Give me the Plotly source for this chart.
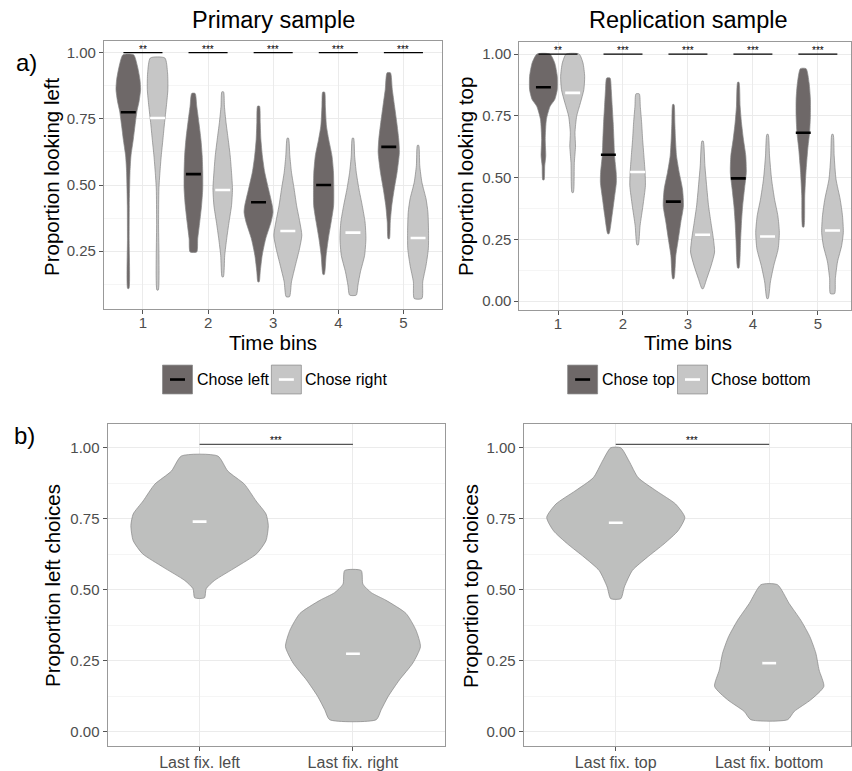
import plotly.graph_objects as go

W, H = 852, 771
FONT = "Liberation Sans, Arial, Helvetica, sans-serif"

# ---------------------------------------------------------------- data ----
time_bins = [1, 2, 3, 4, 5]

# Violin outlines: (proportion, half-width in x units), bottom -> top.
# Primary sample, "Chose left"
prim_left_1 = [(0.109, 0.010), (0.297, 0.013), (0.422, 0.015), (0.548, 0.026), (0.610, 0.041),
               (0.673, 0.077), (0.723, 0.102), (0.779, 0.133), (0.817, 0.166), (0.861, 0.189),
               (0.898, 0.179), (0.949, 0.140), (0.992, 0.082)]
prim_left_2 = [(0.247, 0.051), (0.297, 0.066), (0.360, 0.097), (0.422, 0.125), (0.485, 0.143),
               (0.548, 0.143), (0.610, 0.135), (0.673, 0.115), (0.736, 0.084), (0.798, 0.051),
               (0.846, 0.026)]
prim_left_3 = [(0.134, 0.010), (0.172, 0.026), (0.234, 0.056), (0.297, 0.110), (0.360, 0.192),
               (0.397, 0.222), (0.422, 0.212), (0.485, 0.153), (0.548, 0.095), (0.610, 0.059),
               (0.673, 0.036), (0.736, 0.026), (0.798, 0.015)]
prim_left_4 = [(0.162, 0.010), (0.234, 0.038), (0.297, 0.072), (0.360, 0.115), (0.422, 0.153),
               (0.485, 0.156), (0.548, 0.151), (0.610, 0.128), (0.673, 0.077), (0.723, 0.043),
               (0.798, 0.026), (0.851, 0.015)]
prim_left_5 = [(0.297, 0.010), (0.360, 0.023), (0.422, 0.046), (0.485, 0.084), (0.548, 0.128),
               (0.623, 0.163), (0.673, 0.153), (0.736, 0.123), (0.798, 0.089), (0.861, 0.054),
               (0.924, 0.026)]
# Primary sample, "Chose right"
prim_right_1 = [(0.103, 0.010), (0.360, 0.015), (0.485, 0.020), (0.548, 0.036), (0.610, 0.056),
                (0.673, 0.082), (0.736, 0.107), (0.798, 0.135), (0.861, 0.158), (0.924, 0.153),
                (0.980, 0.112)]
prim_right_2 = [(0.153, 0.010), (0.234, 0.031), (0.297, 0.061), (0.360, 0.097), (0.422, 0.135),
                (0.485, 0.150), (0.548, 0.135), (0.610, 0.115), (0.673, 0.084), (0.736, 0.051),
                (0.798, 0.026), (0.852, 0.013)]
prim_right_3 = [(0.078, 0.026), (0.134, 0.056), (0.197, 0.117), (0.259, 0.179), (0.310, 0.215),
                (0.360, 0.184), (0.422, 0.135), (0.485, 0.097), (0.548, 0.056), (0.610, 0.031),
                (0.677, 0.010)]
prim_right_4 = [(0.084, 0.051), (0.122, 0.077), (0.172, 0.115), (0.234, 0.179), (0.297, 0.199),
                (0.360, 0.186), (0.422, 0.143), (0.485, 0.092), (0.548, 0.051), (0.610, 0.026),
                (0.677, 0.010)]
prim_right_5 = [(0.071, 0.059), (0.134, 0.072), (0.197, 0.123), (0.259, 0.158), (0.322, 0.161),
                (0.397, 0.151), (0.447, 0.123), (0.510, 0.059), (0.573, 0.026), (0.650, 0.010)]

prim_left_medians = [0.775, 0.541, 0.435, 0.500, 0.644]
prim_right_medians = [0.753, 0.481, 0.326, 0.320, 0.300]

# Replication sample, "Chose top"
rep_top_1 = [(0.491, 0.010), (0.548, 0.020), (0.588, 0.036), (0.655, 0.028), (0.736, 0.046),
             (0.789, 0.103), (0.816, 0.174), (0.856, 0.213), (0.910, 0.213), (0.964, 0.174),
             (1.000, 0.100)]
rep_top_2 = [(0.273, 0.010), (0.346, 0.056), (0.413, 0.090), (0.481, 0.123), (0.521, 0.120),
             (0.588, 0.095), (0.655, 0.085), (0.722, 0.074), (0.789, 0.059), (0.856, 0.044),
             (0.903, 0.026)]
rep_top_3 = [(0.091, 0.010), (0.185, 0.038), (0.252, 0.077), (0.320, 0.115), (0.386, 0.156),
             (0.454, 0.141), (0.521, 0.090), (0.588, 0.049), (0.655, 0.033), (0.722, 0.023),
             (0.796, 0.010)]
rep_top_4 = [(0.134, 0.010), (0.252, 0.036), (0.320, 0.049), (0.386, 0.067), (0.454, 0.095),
             (0.521, 0.123), (0.588, 0.115), (0.655, 0.079), (0.722, 0.049), (0.789, 0.028),
             (0.886, 0.010)]
rep_top_5 = [(0.300, 0.010), (0.427, 0.023), (0.521, 0.041), (0.615, 0.069), (0.682, 0.097),
             (0.749, 0.110), (0.816, 0.110), (0.883, 0.090), (0.941, 0.044)]
# Replication sample, "Chose bottom"
rep_bottom_1 = [(0.440, 0.010), (0.561, 0.026), (0.628, 0.044), (0.682, 0.036), (0.749, 0.062),
                (0.803, 0.120), (0.856, 0.172), (0.910, 0.185), (0.964, 0.159), (1.000, 0.100)]
rep_bottom_2 = [(0.228, 0.010), (0.306, 0.038), (0.386, 0.082), (0.467, 0.120), (0.521, 0.115),
                (0.588, 0.097), (0.655, 0.077), (0.722, 0.062), (0.789, 0.041), (0.839, 0.026)]
rep_bottom_3 = [(0.051, 0.010), (0.091, 0.064), (0.145, 0.133), (0.199, 0.185), (0.252, 0.167),
                (0.320, 0.128), (0.386, 0.092), (0.454, 0.067), (0.548, 0.036), (0.648, 0.010)]
rep_bottom_4 = [(0.011, 0.010), (0.078, 0.044), (0.145, 0.097), (0.212, 0.164), (0.279, 0.182),
                (0.346, 0.159), (0.413, 0.108), (0.494, 0.062), (0.588, 0.031), (0.675, 0.010)]
rep_bottom_5 = [(0.031, 0.033), (0.091, 0.044), (0.159, 0.077), (0.225, 0.141), (0.279, 0.167),
                (0.346, 0.154), (0.413, 0.118), (0.494, 0.054), (0.588, 0.026), (0.675, 0.010)]

rep_top_medians = [0.866, 0.593, 0.403, 0.497, 0.682]
rep_bottom_medians = [0.843, 0.523, 0.269, 0.262, 0.286]

# Choice proportions split by the location of the last fixation
prim_choice_labels = ["Last fix. left", "Last fix. right"]
prim_lastfix_left = [(0.472, 0.032), (0.504, 0.043), (0.533, 0.097), (0.580, 0.238), (0.627, 0.372),
                     (0.673, 0.433), (0.726, 0.448), (0.767, 0.433), (0.813, 0.368), (0.872, 0.292),
                     (0.918, 0.184), (0.971, 0.119)]
prim_lastfix_right = [(0.043, 0.152), (0.078, 0.184), (0.125, 0.230), (0.183, 0.303), (0.242, 0.390),
                      (0.300, 0.440), (0.358, 0.411), (0.417, 0.346), (0.463, 0.216), (0.490, 0.120),
                      (0.520, 0.065), (0.568, 0.054)]
prim_choice_medians = [0.740, 0.275]

rep_choice_labels = ["Last fix. top", "Last fix. bottom"]
rep_lastfix_top = [(0.469, 0.033), (0.510, 0.056), (0.568, 0.108), (0.615, 0.206), (0.662, 0.315),
                   (0.708, 0.406), (0.755, 0.450), (0.802, 0.390), (0.848, 0.265), (0.895, 0.146),
                   (0.953, 0.087), (1.000, 0.033)]
rep_lastfix_bottom = [(0.043, 0.120), (0.072, 0.163), (0.113, 0.271), (0.160, 0.356), (0.218, 0.325),
                      (0.277, 0.304), (0.335, 0.265), (0.393, 0.206), (0.452, 0.130), (0.518, 0.054)]
rep_choice_medians = [0.736, 0.242]

bin_stars = ["**", "***", "***", "***", "***"]
choice_stars = "***"

# --------------------------------------------------------------- style ----
DARK = "#6e6868"
LIGHT = "#c6c6c6"
MID = "#bebfbe"
EDGE = "#858585"
GRID = "#ebebeb"
GRID_MINOR = "#f5f5f5"
TICK_TXT = "#4d4d4d"
DODGE = 0.225


def px(x):
    return x / W


def py(y):
    return 1 - y / H


def outline(center, profile):
    ys = [p[0] for p in profile]
    ws = [p[1] for p in profile]
    xs = [center + w for w in ws] + [center - w for w in reversed(ws)]
    yy = ys + ys[::-1]
    xs.append(xs[0])
    yy.append(yy[0])
    return xs, yy


fig = go.Figure()


def add_violin(center, profile, fill, xa, ya):
    xs, ys = outline(center, profile)
    fig.add_trace(go.Scatter(
        x=xs, y=ys, xaxis=xa, yaxis=ya, mode="lines", fill="toself",
        fillcolor=fill, line=dict(color=EDGE, width=0.7, shape="spline", smoothing=0.6),
        hoverinfo="skip", showlegend=False))


def add_median(center, value, half, color, xa, ya, width=2.6):
    fig.add_trace(go.Scatter(
        x=[center - half, center + half], y=[value, value], xaxis=xa, yaxis=ya,
        mode="lines", line=dict(color=color, width=width), hoverinfo="skip",
        showlegend=False))


# Panel a, time-bin violins
panels_a = [
    ("x", "y", [prim_left_1, prim_left_2, prim_left_3, prim_left_4, prim_left_5],
     [prim_right_1, prim_right_2, prim_right_3, prim_right_4, prim_right_5],
     prim_left_medians, prim_right_medians),
    ("x2", "y2", [rep_top_1, rep_top_2, rep_top_3, rep_top_4, rep_top_5],
     [rep_bottom_1, rep_bottom_2, rep_bottom_3, rep_bottom_4, rep_bottom_5],
     rep_top_medians, rep_bottom_medians),
]
for xa, ya, first, second, med1, med2 in panels_a:
    for b, p1, p2, m1, m2 in zip(time_bins, first, second, med1, med2):
        add_violin(b - DODGE, p1, DARK, xa, ya)
        add_violin(b + DODGE, p2, LIGHT, xa, ya)
        add_median(b - DODGE, m1, 0.115, "black", xa, ya)
        add_median(b + DODGE, m2, 0.115, "white", xa, ya)
        # significance bar across the pair
        fig.add_trace(go.Scatter(
            x=[b - 0.3, b + 0.3], y=[1.0, 1.0], xaxis=xa, yaxis=ya, mode="lines",
            line=dict(color="black", width=1.2), hoverinfo="skip", showlegend=False))

# Panel b, last-fixation violins
panels_b = [
    ("x3", "y3", [prim_lastfix_left, prim_lastfix_right], prim_choice_medians),
    ("x4", "y4", [rep_lastfix_top, rep_lastfix_bottom], rep_choice_medians),
]
for xa, ya, profs, meds in panels_b:
    for i, (p, m) in enumerate(zip(profs, meds)):
        add_violin(i + 1, p, MID, xa, ya)
        add_median(i + 1, m, 0.045, "white", xa, ya, width=2.6)
    fig.add_trace(go.Scatter(
        x=[1, 2], y=[1.012, 1.012], xaxis=xa, yaxis=ya, mode="lines",
        line=dict(color="#555555", width=1.3), hoverinfo="skip", showlegend=False))

# --------------------------------------------------------------- axes -----
def yaxis(domain, rng, anchor):
    return dict(
        domain=domain, range=rng, anchor=anchor,
        tickvals=[0, 0.25, 0.5, 0.75, 1.0], ticktext=["0.00", "0.25", "0.50", "0.75", "1.00"],
        ticks="outside", ticklen=4, tickcolor="#555555", tickwidth=1,
        tickfont=dict(family=FONT, size=15, color=TICK_TXT),
        showgrid=True, gridcolor=GRID, gridwidth=1,
        minor=dict(tickvals=[0.125, 0.375, 0.625, 0.875], showgrid=True,
                   gridcolor=GRID_MINOR, gridwidth=1, ticks=""),
        showline=True, linecolor="#999999", linewidth=1, mirror=True, zeroline=False,
        fixedrange=True)


def xaxis(domain, rng, anchor, vals, texts, size, standoff):
    return dict(
        domain=domain, range=rng, anchor=anchor, tickvals=vals, ticktext=texts,
        ticks="outside", ticklen=4, tickcolor="#555555", tickwidth=1,
        ticklabelstandoff=standoff,
        tickfont=dict(family=FONT, size=size, color=TICK_TXT),
        showgrid=True, gridcolor=GRID, gridwidth=1,
        showline=True, linecolor="#999999", linewidth=1, mirror=True, zeroline=False,
        fixedrange=True)


bin_text = [str(b) for b in time_bins]
fig.update_layout(
    xaxis=xaxis([px(104), px(443)], [0.4, 5.6], "y", time_bins, bin_text, 15, -4),
    yaxis=yaxis([py(311), py(41)], [0.03, 1.045], "x"),
    xaxis2=xaxis([px(520), 1.0], [0.405, 5.51], "y2", time_bins, bin_text, 15, -4),
    yaxis2=yaxis([py(312), py(42.7)], [-0.037, 1.047], "x2"),
    xaxis3=xaxis([px(107.7), px(445.5)], [0.4, 2.6], "y3", [1, 2], prim_choice_labels, 16, -2),
    yaxis3=yaxis([py(750), py(426.7)], [-0.05, 1.082], "x3"),
    xaxis4=xaxis([px(524.3), 1.0], [0.4, 2.533], "y4", [1, 2], rep_choice_labels, 16, -2),
    yaxis4=yaxis([py(750), py(426.7)], [-0.05, 1.082], "x4"),
)

# --------------------------------------------------------- annotations ----
ann = []


def text(x, y, s, size, color="black", angle=0, xanchor="center", yanchor="middle"):
    ann.append(dict(x=x, y=y, xref="paper", yref="paper", text=s, showarrow=False,
                    textangle=angle, xanchor=xanchor, yanchor=yanchor,
                    font=dict(family=FONT, size=size, color=color)))


text(px(273.5), py(20), "Primary sample", 23.5)
text(px(689), py(20), "Replication sample", 23.5)
text(px(27), py(63), "a)", 24)
text(px(25), py(438), "b)", 24)
text(px(273.5), py(344.5), "Time bins", 20.5)
text(px(689), py(344.5), "Time bins", 20.5)
text(px(51), py(177), "Proportion looking left", 20.5, angle=-90)
text(px(466), py(177.5), "Proportion looking top", 20.5, angle=-90)
text(px(52.5), py(588.5), "Proportion left choices", 20.5, angle=-90)
text(px(471), py(588.5), "Proportion top choices", 20.5, angle=-90)

# significance stars
for xr, yr in (("x", "y"), ("x2", "y2")):
    for b, s in zip(time_bins, bin_stars):
        ann.append(dict(x=b, y=1.0, xref=xr, yref=yr, text=s, showarrow=False,
                        yanchor="bottom", yshift=-4,
                        font=dict(family=FONT, size=10, color="black")))
for xr, yr in (("x3", "y3"), ("x4", "y4")):
    ann.append(dict(x=1.5, y=1.012, xref=xr, yref=yr, text=choice_stars, showarrow=False,
                    yanchor="bottom", yshift=-4,
                    font=dict(family=FONT, size=10, color="black")))

# legends
shapes = []
legend_sets = [
    (162.7, 195, 271.7, 303, "Chose left", "Chose right"),
    (568.3, 600.7, 678.3, 710, "Chose top", "Chose bottom"),
]
LEG_TOP, LEG_BOT, LEG_MID = 367, 396, 381.5
for k1, t1, k2, t2, s1, s2 in legend_sets:
    for kx, fill, line_col in ((k1, DARK, "black"), (k2, LIGHT, "white")):
        shapes.append(dict(type="rect", xref="paper", yref="paper",
                           x0=px(kx), x1=px(kx + 30), y0=py(LEG_BOT), y1=py(LEG_TOP),
                           fillcolor=fill, line=dict(color=EDGE, width=0.7)))
        shapes.append(dict(type="line", xref="paper", yref="paper",
                           x0=px(kx + 7.5), x1=px(kx + 22.5), y0=py(LEG_MID), y1=py(LEG_MID),
                           line=dict(color=line_col, width=2.6)))
    text(px(t1), py(LEG_MID), s1, 16, xanchor="left")
    text(px(t2), py(LEG_MID), s2, 16, xanchor="left")

fig.update_layout(
    width=W, height=H, margin=dict(l=0, r=0, t=0, b=0),
    paper_bgcolor="white", plot_bgcolor="white",
    showlegend=False, annotations=ann, shapes=shapes,
    font=dict(family=FONT),
)

fig.write_html("out.html")
